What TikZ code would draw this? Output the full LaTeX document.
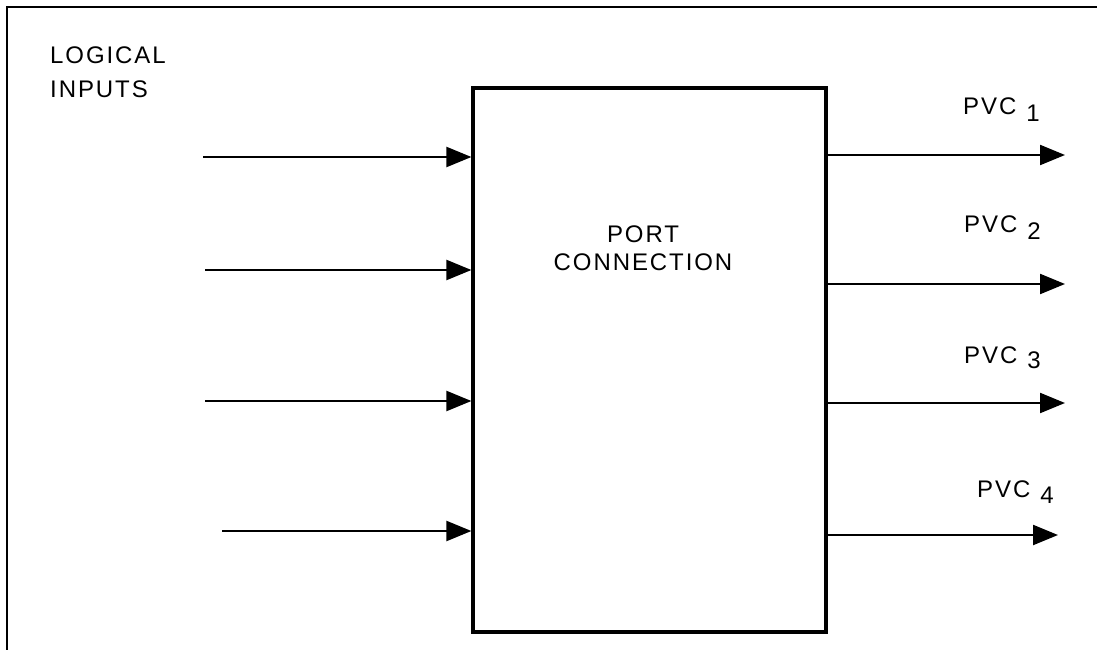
\documentclass[tikz,border=0pt]{standalone}
\usepackage{fontspec}
\setmainfont{Liberation Sans}
\newfontfamily\plotfont[LetterSpace=8]{Liberation Sans}
\usetikzlibrary{arrows.meta}
\begin{document}
\begin{tikzpicture}[x=1pt,y=-1pt,
  txt/.style={font=\plotfont\fontsize{24}{28}\selectfont, inner sep=0pt, anchor=base west},
  arr/.style={line width=2.2pt, -{Triangle[length=25pt,width=20pt]}},
  frame/.style={line width=2.5pt}]
\useasboundingbox (0,0) rectangle (1097,650);
% outer frame (top and left only)
\coordinate (ftl) at (7,7);
\coordinate (ftr) at (1097,7);
\coordinate (fbl) at (7,650);
\draw[frame] (fbl) -- (ftl) -- (ftr);
% main box
\node[draw, line width=3.2pt, minimum width=353pt, minimum height=544pt, inner sep=0pt] (pc) at (649.5,360) {};
\node[txt, anchor=base] (pctext1) at (643,242) {PORT};
\node[txt, anchor=base] (pctext2) at (643,270) {CONNECTION};
% labels
\node[txt] (lab1) at (50,64) {LOGICAL};
\node[txt] (lab2) at (50,98) {INPUTS};
% inputs
\coordinate (in1) at (203,157);
\coordinate (in2) at (205,270);
\coordinate (in3) at (205,401);
\coordinate (in4) at (222,531);
\foreach \i in {1,2,3,4} \draw[arr] (in\i) -- (in\i -| pc.west);
% outputs
\coordinate (out1) at (1065,155);
\coordinate (out2) at (1065,284);
\coordinate (out3) at (1065,403);
\coordinate (out4) at (1058,535);
\foreach \i in {1,2,3,4} \draw[arr] (out\i -| pc.east) -- (out\i);
% output labels
\node[txt] (pvc1) at (963,115) {PVC\hspace{10pt}\raisebox{-6pt}{1}};
\node[txt] (pvc2) at (964,232) {PVC\hspace{10pt}\raisebox{-7pt}{2}};
\node[txt] (pvc3) at (964,363) {PVC\hspace{10pt}\raisebox{-5pt}{3}};
\node[txt] (pvc4) at (977,497) {PVC\hspace{10pt}\raisebox{-6pt}{4}};
\end{tikzpicture}
\end{document}
